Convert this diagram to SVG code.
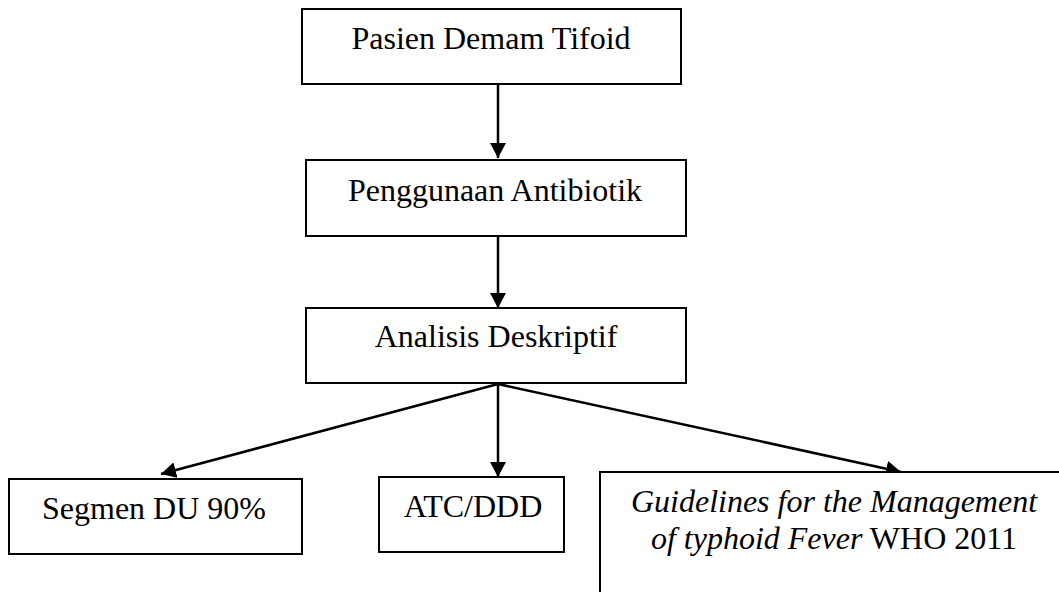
<svg xmlns="http://www.w3.org/2000/svg" width="1059" height="592" viewBox="0 0 1059 592">
<style>
.box{fill:#fff;stroke:#000;stroke-width:2}
.t{font-family:"Liberation Serif","Times New Roman",serif;font-size:32px;fill:#000;text-anchor:middle}
.i{font-style:italic}
.c{stroke:#000;stroke-width:2.5;fill:none;marker-end:url(#ah)}
</style>
<defs>
<marker id="ah" markerUnits="userSpaceOnUse" markerWidth="16" markerHeight="16" viewBox="0 0 16 16" refX="15" refY="8" orient="auto">
<path d="M0,0 L15,8 L0,16 Z" fill="#000"/>
</marker>
</defs>
<rect width="1059" height="592" fill="#fff"/>
<g id="connectors">
<line class="c" x1="498" y1="84" x2="498" y2="158"/>
<line class="c" x1="498" y1="237" x2="498" y2="308"/>
<line class="c" x1="498" y1="384" x2="161" y2="474"/>
<line class="c" x1="498" y1="384" x2="498" y2="477"/>
<line class="c" x1="498" y1="384" x2="901" y2="472"/>
</g>
<g id="n1">
<rect class="box" x="302" y="9" width="379" height="75"/>
<text class="t" x="491" y="49">Pasien Demam Tifoid</text>
</g>
<g id="n2">
<rect class="box" x="306" y="160" width="380" height="76"/>
<text class="t" x="495" y="201">Penggunaan Antibiotik</text>
</g>
<g id="n3">
<rect class="box" x="306" y="308" width="380" height="75"/>
<text class="t" x="496" y="347">Analisis Deskriptif</text>
</g>
<g id="n4">
<rect class="box" x="9" y="479" width="293" height="75"/>
<text class="t" x="154" y="519">Segmen DU 90%</text>
</g>
<g id="n5">
<rect class="box" x="379" y="477" width="185" height="75"/>
<text class="t" x="473" y="517">ATC/DDD</text>
</g>
<g id="n6">
<rect class="box" x="600" y="472" width="480" height="200"/>
<text class="t i" x="834" y="512">Guidelines for the Management</text>
<text class="t" x="834" y="549"><tspan class="i">of typhoid Fever</tspan> WHO 2011</text>
</g>
</svg>
